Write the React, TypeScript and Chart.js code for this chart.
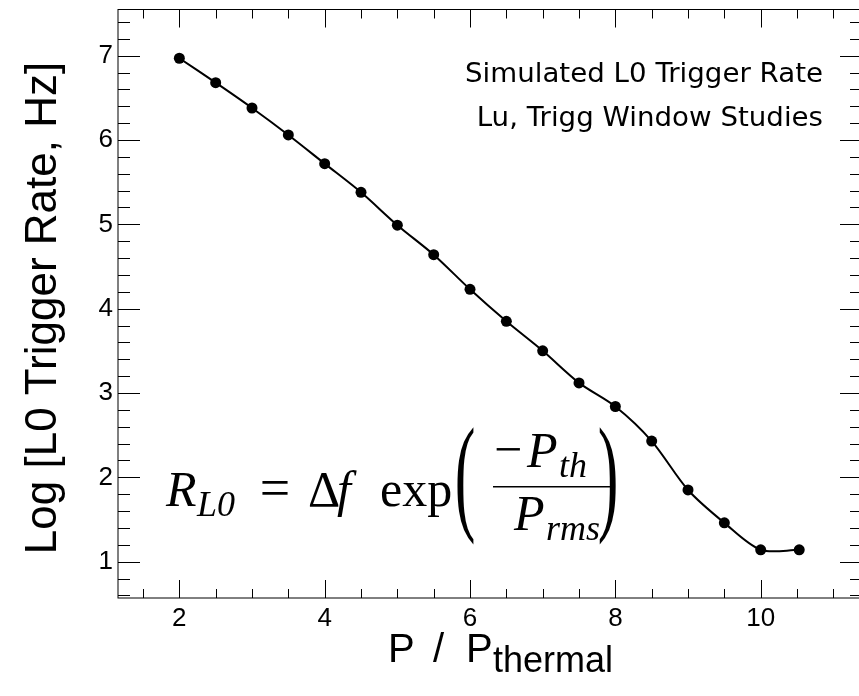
import React, { useEffect, useRef } from 'react';
import { Chart, registerables } from 'chart.js';

Chart.register(...registerables);

// ---- data ----
const P_RATIO = [2, 2.5, 3, 3.5, 4, 4.5, 5, 5.5, 6, 6.5, 7, 7.5, 8, 8.5, 9, 9.5, 10, 10.53];
const LOG_RATE = [6.97, 6.68, 6.38, 6.06, 5.72, 5.38, 4.99, 4.64, 4.23, 3.85, 3.5, 3.12, 2.84, 2.43, 1.85, 1.46, 1.14, 1.14];
const X_TICKS = [2, 4, 6, 8, 10];
const Y_TICKS = [1, 2, 3, 4, 5, 6, 7];
const X_RANGE = [1.156, 11.394];
const Y_RANGE = [0.569, 7.548];
const X_MINOR_STEP = 0.5;
const Y_MINOR_STEP = 0.2;
const ANNOTATION = ['Simulated L0 Trigger Rate', 'Lu, Trigg Window Studies'];
const Y_TITLE = 'Log [L0 Trigger Rate, Hz]';

const SANS = '"Liberation Sans", Arial, sans-serif';
const SERIF = '"Liberation Serif", serif';
const ANNOT_FONT = '26px "DejaVu Sans", sans-serif';

function put(ctx: CanvasRenderingContext2D, s: string, x: number, y: number, font: string, align: CanvasTextAlign = 'left') {
  ctx.font = font;
  ctx.textAlign = align;
  ctx.textBaseline = 'alphabetic';
  ctx.fillText(s, x, y);
}

function paren(ctx: CanvasRenderingContext2D, s: string, cx: number, top: number, bottom: number) {
  ctx.save();
  ctx.font = `62px ${SERIF}`;
  ctx.textAlign = 'center';
  ctx.textBaseline = 'alphabetic';
  const m = ctx.measureText(s);
  const h = m.actualBoundingBoxAscent + m.actualBoundingBoxDescent;
  const sy = (bottom - top) / h;
  ctx.translate(cx, top);
  ctx.scale(1, sy);
  ctx.fillText(s, 0, m.actualBoundingBoxAscent);
  ctx.restore();
}

function fitRight(ctx: CanvasRenderingContext2D, s: string, right: number, y: number, sx: number) {
  ctx.save();
  ctx.font = ANNOT_FONT;
  ctx.textAlign = 'right';
  ctx.textBaseline = 'alphabetic';
  ctx.translate(right, y);
  ctx.scale(sx, 1);
  ctx.fillText(s, 0, 0);
  ctx.restore();
}

const framePlugin = {
  id: 'frameAndText',
  afterDraw(chart: any) {
    const { ctx, chartArea: a, scales } = chart;
    const xs = scales.x;
    const ys = scales.y;
    ctx.save();
    ctx.strokeStyle = '#000';
    ctx.lineWidth = 1;
    ctx.strokeRect(a.left, a.top, a.right - a.left, a.bottom - a.top);

    ctx.beginPath();
    const x0 = Math.ceil(xs.min / X_MINOR_STEP - 1e-9) * X_MINOR_STEP;
    for (let v = x0; v <= xs.max + 1e-9; v += X_MINOR_STEP) {
      const vv = Math.round(v * 1000) / 1000;
      const major = X_TICKS.includes(vv);
      const len = major ? 18 : 9;
      const px = Math.round(xs.getPixelForValue(vv)) + 0.5;
      ctx.moveTo(px, a.bottom);
      ctx.lineTo(px, a.bottom - len);
      ctx.moveTo(px, a.top);
      ctx.lineTo(px, a.top + len);
    }
    const y0 = Math.ceil(ys.min / Y_MINOR_STEP - 1e-9) * Y_MINOR_STEP;
    for (let v = y0; v <= ys.max + 1e-9; v += Y_MINOR_STEP) {
      const vv = Math.round(v * 1000) / 1000;
      const major = Y_TICKS.includes(vv);
      const len = major ? 22 : 12;
      const py = Math.round(ys.getPixelForValue(vv)) + 0.5;
      ctx.moveTo(a.left, py);
      ctx.lineTo(a.left + len, py);
      ctx.moveTo(a.right, py);
      ctx.lineTo(a.right - len, py);
    }
    ctx.stroke();

    ctx.fillStyle = '#000';

    // y-axis title
    ctx.save();
    ctx.translate(56, 308);
    ctx.rotate(-Math.PI / 2);
    put(ctx, Y_TITLE, 0, 0, `44px ${SANS}`, 'center');
    ctx.restore();

    // x-axis title
    put(ctx, 'P', 388, 662, `40px ${SANS}`);
    put(ctx, '/', 433, 662, `40px ${SANS}`);
    put(ctx, 'P', 466, 662, `40px ${SANS}`);
    put(ctx, 'thermal', 493, 672, `36px ${SANS}`);

    // annotation (stretched to the measured width)
    ctx.font = ANNOT_FONT;
    const w = ctx.measureText(ANNOTATION[0]).width;
    const sx = 358 / w;
    fitRight(ctx, ANNOTATION[0], 823, 82, sx);
    fitRight(ctx, ANNOTATION[1], 823, 126, sx);

    // formula
    put(ctx, 'R', 166, 506, `italic 50px ${SERIF}`);
    put(ctx, 'L0', 197, 516, `italic 36px ${SERIF}`);
    put(ctx, '=', 275, 506, `54px ${SERIF}`, 'center');
    put(ctx, 'Δ', 308, 506, `50px ${SERIF}`);
    put(ctx, 'f', 337, 506, `italic 50px ${SERIF}`);
    put(ctx, 'exp', 380, 506, `50px ${SERIF}`);
    paren(ctx, '(', 465, 428, 546);
    put(ctx, '−', 508, 466, `50px ${SERIF}`, 'center');
    put(ctx, 'P', 527, 467, `italic 50px ${SERIF}`);
    put(ctx, 'th', 559, 477, `italic 36px ${SERIF}`);
    ctx.fillRect(493, 486, 119, 1.5);
    put(ctx, 'P', 514, 530, `italic 50px ${SERIF}`);
    put(ctx, 'rms', 546, 540, `italic 36px ${SERIF}`);
    paren(ctx, ')', 608, 428, 546);

    ctx.restore();
  },
};

export default function App() {
  const ref = useRef<HTMLCanvasElement>(null);
  useEffect(() => {
    const canvas = ref.current;
    if (!canvas) return;
    const chart = new Chart(canvas, {
      type: 'line',
      data: {
        datasets: [
          {
            data: P_RATIO.map((x, i) => ({ x, y: LOG_RATE[i] })),
            borderColor: '#000',
            borderWidth: 2,
            backgroundColor: '#000',
            pointRadius: 5.5,
            pointBackgroundColor: '#000',
            pointBorderColor: '#000',
            pointBorderWidth: 0,
            tension: 0.3,
            fill: false,
          },
        ],
      },
      options: {
        animation: false,
        responsive: false,
        maintainAspectRatio: false,
        layout: { padding: { top: 9.5, right: 18, bottom: 0, left: 0 } },
        plugins: {
          legend: { display: false },
          tooltip: { enabled: false },
          title: { display: false },
        },
        scales: {
          x: {
            type: 'linear',
            min: X_RANGE[0],
            max: X_RANGE[1],
            grid: { display: false, drawTicks: false },
            border: { display: false },
            afterBuildTicks: (s: any) => {
              s.ticks = X_TICKS.map((v) => ({ value: v }));
            },
            afterFit: (s: any) => {
              s.height = 98;
              s.paddingLeft = 0;
              s.paddingRight = 0;
            },
            ticks: {
              color: '#000',
              font: { family: SANS, size: 26 },
              padding: 5,
              maxRotation: 0,
              autoSkip: false,
            },
          },
          y: {
            type: 'linear',
            min: Y_RANGE[0],
            max: Y_RANGE[1],
            grid: { display: false, drawTicks: false },
            border: { display: false },
            afterBuildTicks: (s: any) => {
              s.ticks = Y_TICKS.map((v) => ({ value: v }));
            },
            afterFit: (s: any) => {
              s.width = 118;
              s.paddingTop = 0;
              s.paddingBottom = 0;
            },
            ticks: {
              color: '#000',
              font: { family: SANS, size: 26 },
              padding: 5,
              autoSkip: false,
            },
          },
        },
      },
      plugins: [framePlugin],
    } as any);
    return () => chart.destroy();
  }, []);
  return (
    <div style={{ position: 'absolute', left: 0, top: 0, width: 859, height: 696, overflow: 'hidden', background: '#fff' }}>
      <canvas ref={ref} width={880} height={696} style={{ display: 'block', width: 880, height: 696 }} />
    </div>
  );
}
